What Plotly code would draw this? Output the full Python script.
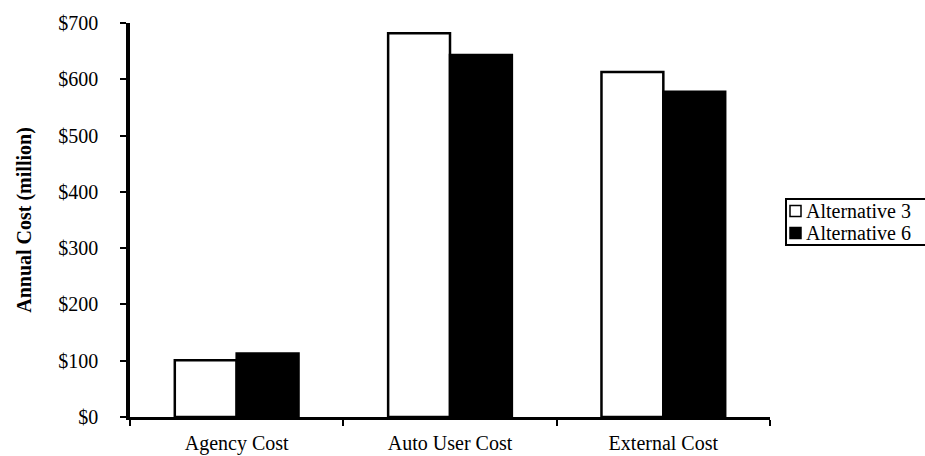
import plotly.graph_objects as go

# Annual cost comparison by cost category (millions of dollars)
categories = ["Agency Cost", "Auto User Cost", "External Cost"]
series_names = ["Alternative 3", "Alternative 6"]
alt3_cost = [101, 682, 613]
alt6_cost = [113, 643, 578]
y_ticks = [0, 100, 200, 300, 400, 500, 600, 700]
y_tick_labels = ["$0", "$100", "$200", "$300", "$400", "$500", "$600", "$700"]

serif = "Liberation Serif"
fills = ["white", "black"]

fig = go.Figure()
for name, vals, fill in zip(series_names, [alt3_cost, alt6_cost], fills):
    fig.add_trace(go.Bar(
        name=name, x=categories, y=vals,
        marker=dict(color=fill, line=dict(color="black", width=2.5)),
    ))

W, H = 925, 456
M = dict(l=130, r=155, t=23, b=39)
plot_w = W - M["l"] - M["r"]
plot_h = H - M["t"] - M["b"]


def px_x(p):
    return (p - M["l"]) / plot_w


def px_y(p):
    return (H - M["b"] - p) / plot_h


# Compact boxed key on the right, drawn in paper coordinates
shapes = [dict(type="rect", xref="paper", yref="paper",
               x0=px_x(786), x1=px_x(940), y0=px_y(245), y1=px_y(199),
               line=dict(color="black", width=2), fillcolor="white", layer="above")]
annotations = []
row_centers = [211, 233]
for name, fill, cy in zip(series_names, fills, row_centers):
    shapes.append(dict(type="rect", xref="paper", yref="paper",
                       x0=px_x(790), x1=px_x(801), y0=px_y(cy + 5.5), y1=px_y(cy - 5.5),
                       line=dict(color="black", width=1.5), fillcolor=fill, layer="above"))
    annotations.append(dict(text=name, xref="paper", yref="paper",
                            x=px_x(804), y=px_y(cy), xanchor="left", yanchor="middle",
                            showarrow=False,
                            font=dict(family=serif, size=20, color="black")))

fig.update_layout(
    width=W, height=H,
    margin=dict(**M, autoexpand=False),
    paper_bgcolor="white", plot_bgcolor="white",
    font=dict(family=serif, size=20, color="black"),
    barmode="group", bargap=0.42, bargroupgap=0,
    showlegend=False,
    shapes=shapes, annotations=annotations,
)

fig.update_xaxes(
    showline=True, linecolor="black", linewidth=3,
    ticks="outside", tickson="boundaries", ticklen=6, tickwidth=2,
    tickcolor="black", showgrid=False, zeroline=False,
    tickfont=dict(family=serif, size=20, color="black"),
    ticklabelstandoff=6,
)
fig.update_yaxes(
    range=[0, 700], tickvals=y_ticks, ticktext=y_tick_labels,
    showline=True, linecolor="black", linewidth=3.5,
    ticks="outside", ticklen=6, tickwidth=2, tickcolor="black",
    showgrid=False, zeroline=False,
    tickfont=dict(family=serif, size=20, color="black"),
    ticklabelstandoff=18,
    title=dict(text="<b>Annual Cost (million)</b>", standoff=22,
               font=dict(family=serif, size=20, color="black")),
)

fig.write_html("out.html")
